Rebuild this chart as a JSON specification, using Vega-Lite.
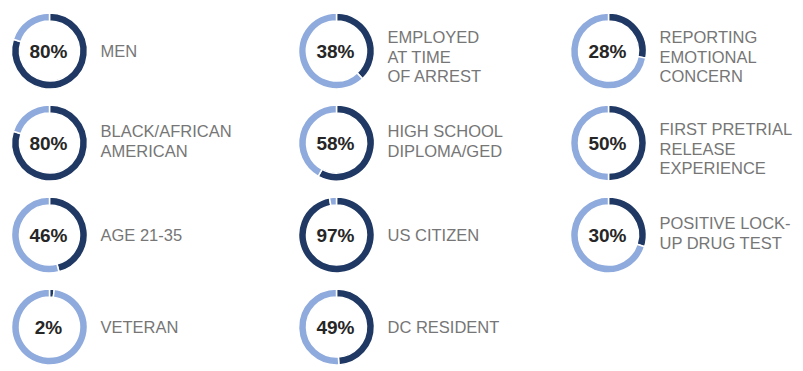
{
  "$schema": "https://vega.github.io/schema/vega-lite/v6.json",
  "padding": {"left": 0, "top": 5, "right": 0, "bottom": 0},
  "background": "white",
  "data": {
    "values": [
      {"label": "MEN", "part": "share", "value": 0.80},
      {"label": "MEN", "part": "rest", "value": 0.20},
      {"label": "EMPLOYED\nAT TIME\nOF ARREST", "part": "share", "value": 0.38},
      {"label": "EMPLOYED\nAT TIME\nOF ARREST", "part": "rest", "value": 0.62},
      {"label": "REPORTING\nEMOTIONAL\nCONCERN", "part": "share", "value": 0.28},
      {"label": "REPORTING\nEMOTIONAL\nCONCERN", "part": "rest", "value": 0.72},
      {"label": "BLACK/AFRICAN\nAMERICAN", "part": "share", "value": 0.80},
      {"label": "BLACK/AFRICAN\nAMERICAN", "part": "rest", "value": 0.20},
      {"label": "HIGH SCHOOL\nDIPLOMA/GED", "part": "share", "value": 0.58},
      {"label": "HIGH SCHOOL\nDIPLOMA/GED", "part": "rest", "value": 0.42},
      {"label": "FIRST PRETRIAL\nRELEASE\nEXPERIENCE", "part": "share", "value": 0.50},
      {"label": "FIRST PRETRIAL\nRELEASE\nEXPERIENCE", "part": "rest", "value": 0.50},
      {"label": "AGE 21-35", "part": "share", "value": 0.46},
      {"label": "AGE 21-35", "part": "rest", "value": 0.54},
      {"label": "US CITIZEN", "part": "share", "value": 0.97},
      {"label": "US CITIZEN", "part": "rest", "value": 0.03},
      {"label": "POSITIVE LOCK-\nUP DRUG TEST", "part": "share", "value": 0.30},
      {"label": "POSITIVE LOCK-\nUP DRUG TEST", "part": "rest", "value": 0.70},
      {"label": "VETERAN", "part": "share", "value": 0.02},
      {"label": "VETERAN", "part": "rest", "value": 0.98},
      {"label": "DC RESIDENT", "part": "share", "value": 0.49},
      {"label": "DC RESIDENT", "part": "rest", "value": 0.51}
    ]
  },
  "bounds": "full",
  "spacing": 55,
  "hconcat": [
    {
      "transform": [{"filter": {"field": "label", "oneOf": ["MEN", "BLACK/AFRICAN\nAMERICAN", "AGE 21-35", "VETERAN"]}}],
      "columns": 1,
      "bounds": "flush",
      "spacing": {"row": 0, "column": 0},
      "facet": {
        "field": "label", "type": "nominal", "title": null,
        "header": {"labelExpr": "''", "labelFontSize": 0, "labelPadding": 0, "title": null},
        "sort": ["MEN", "BLACK/AFRICAN\nAMERICAN", "AGE 21-35", "VETERAN"]
      },
      "spec": {
        "width": 99,
        "height": 92,
        "layer": [
          {
            "mark": {"type": "arc", "outerRadius": 38, "innerRadius": 30, "stroke": "white", "strokeWidth": 1.5},
            "encoding": {
              "theta": {"field": "value", "type": "quantitative", "stack": true},
              "order": {"field": "part", "sort": "descending"},
              "color": {"field": "part", "type": "nominal", "scale": {"domain": ["share", "rest"], "range": ["#1F3864", "#8FAADC"]}, "legend": null}
            }
          },
          {
            "transform": [{"filter": "datum.part == 'share'"}],
            "mark": {"type": "text", "font": "Liberation Sans", "fontWeight": "bold", "fontSize": 19, "color": "#262626", "baseline": "middle", "align": "center", "dx": -1, "dy": 1},
            "encoding": {"text": {"field": "value", "type": "quantitative", "format": ".0%"}}
          },
          {
            "transform": [{"filter": "datum.part == 'share'"}],
            "mark": {"type": "text", "font": "Liberation Sans", "fontSize": 16.5, "color": "#767676", "baseline": "middle", "align": "left", "dx": 51,
              "dy": {"expr": "length(split(datum.label, '\\n')) == 1 ? 1 : (length(split(datum.label, '\\n')) == 2 ? -11 : -13)"},
              "lineBreak": "\n", "lineHeight": 19.5},
            "encoding": {"text": {"field": "label", "type": "nominal"}}
          }
        ]
      }
    },
    {
      "transform": [{"filter": {"field": "label", "oneOf": ["EMPLOYED\nAT TIME\nOF ARREST", "HIGH SCHOOL\nDIPLOMA/GED", "US CITIZEN", "DC RESIDENT"]}}],
      "columns": 1,
      "bounds": "flush",
      "spacing": {"row": 0, "column": 0},
      "facet": {
        "field": "label", "type": "nominal", "title": null,
        "header": {"labelExpr": "''", "labelFontSize": 0, "labelPadding": 0, "title": null},
        "sort": ["EMPLOYED\nAT TIME\nOF ARREST", "HIGH SCHOOL\nDIPLOMA/GED", "US CITIZEN", "DC RESIDENT"]
      },
      "spec": {
        "width": 99,
        "height": 92,
        "layer": [
          {
            "mark": {"type": "arc", "outerRadius": 38, "innerRadius": 30, "stroke": "white", "strokeWidth": 1.5},
            "encoding": {
              "theta": {"field": "value", "type": "quantitative", "stack": true},
              "order": {"field": "part", "sort": "descending"},
              "color": {"field": "part", "type": "nominal", "scale": {"domain": ["share", "rest"], "range": ["#1F3864", "#8FAADC"]}, "legend": null}
            }
          },
          {
            "transform": [{"filter": "datum.part == 'share'"}],
            "mark": {"type": "text", "font": "Liberation Sans", "fontWeight": "bold", "fontSize": 19, "color": "#262626", "baseline": "middle", "align": "center", "dx": -1, "dy": 1},
            "encoding": {"text": {"field": "value", "type": "quantitative", "format": ".0%"}}
          },
          {
            "transform": [{"filter": "datum.part == 'share'"}],
            "mark": {"type": "text", "font": "Liberation Sans", "fontSize": 16.5, "color": "#767676", "baseline": "middle", "align": "left", "dx": 51,
              "dy": {"expr": "length(split(datum.label, '\\n')) == 1 ? 1 : (length(split(datum.label, '\\n')) == 2 ? -11 : -13)"},
              "lineBreak": "\n", "lineHeight": 19.5},
            "encoding": {"text": {"field": "label", "type": "nominal"}}
          }
        ]
      }
    },
    {
      "transform": [{"filter": {"field": "label", "oneOf": ["REPORTING\nEMOTIONAL\nCONCERN", "FIRST PRETRIAL\nRELEASE\nEXPERIENCE", "POSITIVE LOCK-\nUP DRUG TEST"]}}],
      "columns": 1,
      "bounds": "flush",
      "spacing": {"row": 0, "column": 0},
      "facet": {
        "field": "label", "type": "nominal", "title": null,
        "header": {"labelExpr": "''", "labelFontSize": 0, "labelPadding": 0, "title": null},
        "sort": ["REPORTING\nEMOTIONAL\nCONCERN", "FIRST PRETRIAL\nRELEASE\nEXPERIENCE", "POSITIVE LOCK-\nUP DRUG TEST"]
      },
      "spec": {
        "width": 99,
        "height": 92,
        "layer": [
          {
            "mark": {"type": "arc", "outerRadius": 38, "innerRadius": 30, "stroke": "white", "strokeWidth": 1.5},
            "encoding": {
              "theta": {"field": "value", "type": "quantitative", "stack": true},
              "order": {"field": "part", "sort": "descending"},
              "color": {"field": "part", "type": "nominal", "scale": {"domain": ["share", "rest"], "range": ["#1F3864", "#8FAADC"]}, "legend": null}
            }
          },
          {
            "transform": [{"filter": "datum.part == 'share'"}],
            "mark": {"type": "text", "font": "Liberation Sans", "fontWeight": "bold", "fontSize": 19, "color": "#262626", "baseline": "middle", "align": "center", "dx": -1, "dy": 1},
            "encoding": {"text": {"field": "value", "type": "quantitative", "format": ".0%"}}
          },
          {
            "transform": [{"filter": "datum.part == 'share'"}],
            "mark": {"type": "text", "font": "Liberation Sans", "fontSize": 16.5, "color": "#767676", "baseline": "middle", "align": "left", "dx": 51,
              "dy": {"expr": "length(split(datum.label, '\\n')) == 1 ? 1 : (length(split(datum.label, '\\n')) == 2 ? -11 : -13)"},
              "lineBreak": "\n", "lineHeight": 19.5},
            "encoding": {"text": {"field": "label", "type": "nominal"}}
          }
        ]
      }
    }
  ],
  "config": {
    "view": {"stroke": null}
  }
}
